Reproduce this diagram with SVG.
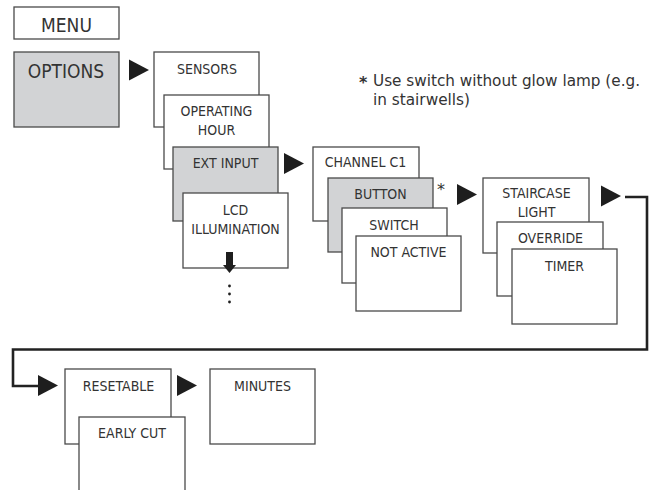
<svg xmlns="http://www.w3.org/2000/svg" width="649" height="490" viewBox="0 0 649 490">
<defs>
<style>
.box{fill:#fff;stroke:#4a4a4a;stroke-width:1.3}
.gray{fill:#d2d3d5}
.t{font-family:"DejaVu Sans Condensed","DejaVu Sans",sans-serif;font-stretch:condensed;font-size:14px;fill:#333;text-anchor:middle;font-weight:300}
.big{font-size:19px}
.note{font-family:"DejaVu Sans","Liberation Sans",sans-serif;font-size:16px;fill:#333}
.conn{fill:none;stroke:#222;stroke-width:2.6}
.arr{fill:#1e1e1e}
</style>
<path id="tri" d="M0,0 L20,10.5 L0,21 Z"/>
</defs>
<rect width="649" height="490" fill="#fff"/>

<g id="menu"><rect class="box" x="14" y="7" width="105" height="32"/><text class="t big" x="66.5" y="32">MENU</text></g>
<g id="options"><rect class="box gray" x="14" y="52" width="105" height="75"/><text class="t big" x="66" y="78">OPTIONS</text></g>

<g id="sensors"><rect class="box" x="154" y="52" width="105" height="75"/><text class="t" x="207" y="74">SENSORS</text></g>
<g id="operating-hour"><rect class="box" x="164" y="95" width="105" height="74"/><text class="t" x="216.5" y="116">OPERATING</text><text class="t" x="216.5" y="135">HOUR</text></g>
<g id="ext-input"><rect class="box gray" x="173" y="147" width="105" height="74"/><text class="t" x="225.5" y="168">EXT INPUT</text></g>
<g id="lcd-illumination"><rect class="box" x="183" y="193" width="105" height="75"/><text class="t" x="235.5" y="215">LCD</text><text class="t" x="235.5" y="234">ILLUMINATION</text></g>

<g id="channel-c1"><rect class="box" x="313" y="147" width="106" height="74"/><text class="t" x="365.5" y="167">CHANNEL C1</text></g>
<g id="button"><rect class="box gray" x="328" y="178" width="105" height="74"/><text class="t" x="380.5" y="199">BUTTON</text></g>
<g id="switch"><rect class="box" x="342" y="208" width="105" height="75"/><text class="t" x="394" y="230">SWITCH</text></g>
<g id="not-active"><rect class="box" x="356" y="236" width="105" height="75"/><text class="t" x="408.5" y="257">NOT ACTIVE</text></g>
<g id="asterisk"><text class="note" x="437" y="195">*</text></g>

<g id="staircase-light"><rect class="box" x="483" y="178" width="106" height="75"/><text class="t" x="536.5" y="198">STAIRCASE</text><text class="t" x="536.5" y="217">LIGHT</text></g>
<g id="override"><rect class="box" x="497" y="222" width="106" height="74"/><text class="t" x="550.5" y="243">OVERRIDE</text></g>
<g id="timer"><rect class="box" x="512" y="249" width="105" height="75"/><text class="t" x="564.5" y="271">TIMER</text></g>

<g id="resetable"><rect class="box" x="65" y="369" width="106" height="75"/><text class="t" x="118.5" y="391">RESETABLE</text></g>
<g id="early-cut"><rect class="box" x="79" y="417" width="106" height="80"/><text class="t" x="132" y="438">EARLY CUT</text></g>
<g id="minutes"><rect class="box" x="210" y="369" width="105" height="75"/><text class="t" x="262.5" y="391">MINUTES</text></g>

<g id="footnote"><text class="note" x="359" y="88" font-weight="bold">*</text><text class="note" x="373" y="86" textLength="267" lengthAdjust="spacingAndGlyphs">Use switch without glow lamp (e.g.</text><text class="note" x="373" y="105" textLength="97" lengthAdjust="spacingAndGlyphs">in stairwells)</text></g>

<g id="connectors">
<use href="#tri" class="arr" x="129" y="59.5"/>
<use href="#tri" class="arr" x="284" y="153"/>
<use href="#tri" class="arr" x="457" y="184"/>
<use href="#tri" class="arr" x="601" y="185.5"/>
<use href="#tri" class="arr" x="38" y="375"/>
<use href="#tri" class="arr" x="177" y="375"/>
<path class="conn" d="M625,197 H647 V349.5 H13 V386 H40"/>
<rect class="arr" x="226" y="252" width="7" height="15"/>
<path class="arr" d="M223,265 L236,265 L229.5,273 Z"/>
<circle class="arr" cx="229.5" cy="286" r="1.4"/>
<circle class="arr" cx="229.5" cy="294" r="1.4"/>
<circle class="arr" cx="229.5" cy="302" r="1.4"/>
</g>
</svg>
